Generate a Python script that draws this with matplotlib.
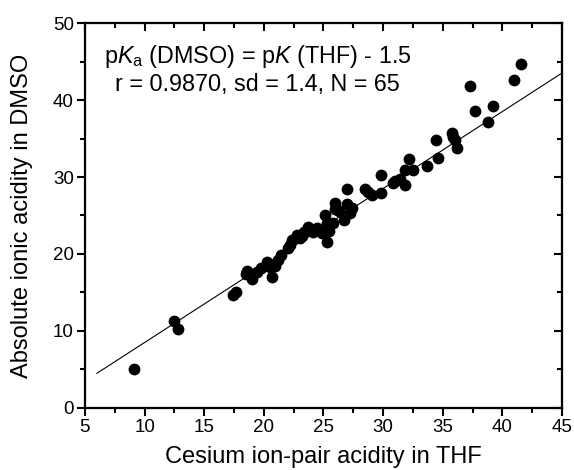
# Absolute ionic acidity (DMSO) vs cesium ion-pair acidity (THF)
import matplotlib
matplotlib.use("Agg")
import matplotlib.pyplot as plt
from matplotlib.ticker import MultipleLocator

plt.rcParams['font.family'] = ['Liberation Sans', 'DejaVu Sans']
plt.rcParams['mathtext.fontset'] = 'custom'
plt.rcParams['mathtext.rm'] = 'Liberation Sans'
plt.rcParams['mathtext.it'] = 'Liberation Sans:italic'

# Data
thf = [9.1, 12.5, 12.8, 17.4, 17.7, 18.6, 19.0, 19.4, 20.3, 20.5,
       20.9, 20.7, 21.4, 22.2, 22.4, 22.8, 23.0, 23.4, 23.7, 24.1,
       24.9, 25.1, 25.3, 25.3, 25.8, 26.0, 26.0, 27.0, 27.2, 26.7,
       27.0, 28.5, 29.1, 29.8, 29.8, 30.8, 31.0, 31.8, 31.8, 32.5,
       32.2, 33.7, 34.4, 34.6, 35.8, 35.9, 36.2, 37.3, 37.7, 38.8,
       39.2, 41.0, 41.6, 19.8, 22.0, 24.5, 26.3, 23.2, 28.7, 18.5,
       21.2, 25.5, 31.4, 36.0, 27.4]
dmso = [5.1, 11.3, 10.3, 14.7, 15.1, 17.8, 16.8, 17.7, 19.0, 18.3,
        18.4, 17.0, 19.9, 21.2, 21.8, 22.5, 22.1, 22.9, 23.5, 22.9,
        22.7, 25.1, 21.6, 24.0, 24.0, 26.6, 25.8, 26.5, 25.3, 24.4,
        28.4, 28.4, 27.7, 27.9, 30.3, 29.2, 29.5, 29.0, 30.9, 30.9,
        32.3, 31.4, 34.8, 32.5, 35.7, 35.2, 33.8, 41.8, 38.6, 37.1,
        39.2, 42.6, 44.7, 18.2, 20.8, 23.4, 25.6, 22.3, 28.0, 17.4,
        19.2, 23.0, 29.8, 34.8, 26.0]

# Fit line pK(DMSO) = pK(THF) - 1.5
fit_x = [6, 45]
fit_y = [x - 1.5 for x in fit_x]

fig = plt.figure(figsize=(5.74, 4.70), dpi=100)
ax = fig.add_axes([0.148, 0.132, 0.831, 0.819])

ax.plot(fit_x, fit_y, color='black', linewidth=0.8)
ax.plot(thf, dmso, 'o', color='black', markersize=8.5, markeredgewidth=0)

ax.set_xlim(5, 45)
ax.set_ylim(0, 50)

# ticks: outward on bottom/left, inward on top/right
axt = ax.twiny()
axr = ax.twinx()
axt.set_xlim(ax.get_xlim())
axr.set_ylim(ax.get_ylim())
for a in [ax, axt]:
    a.xaxis.set_major_locator(MultipleLocator(5))
    a.xaxis.set_minor_locator(MultipleLocator(2.5))
for a in [ax, axr]:
    a.yaxis.set_major_locator(MultipleLocator(10))
    a.yaxis.set_minor_locator(MultipleLocator(5))
for a in [ax, axt, axr]:
    for s in a.spines.values():
        s.set_linewidth(1.5)
    a.tick_params(which='both', width=1.5, colors='black')
    a.tick_params(which='major', length=6)
    a.tick_params(which='minor', length=3.5)
ax.tick_params(which='both', direction='out', labelsize=13.5, pad=2)
axt.tick_params(which='both', direction='in', labeltop=False)
axr.tick_params(which='both', direction='in', labelright=False)

ax.set_xlabel('Cesium ion-pair acidity in THF', fontsize=17, labelpad=7)
ax.set_ylabel('Absolute ionic acidity in DMSO', fontsize=17, labelpad=14)

ax.text(19.5, 45.6, r'p$K_\mathregular{a}$ (DMSO) = p$K$ (THF) - 1.5',
        ha='center', va='center', fontsize=16.8)
ax.text(19.5, 42.0, 'r = 0.9870, sd = 1.4, N = 65',
        ha='center', va='center', fontsize=16.8)

fig.savefig('out.png', dpi=100)
